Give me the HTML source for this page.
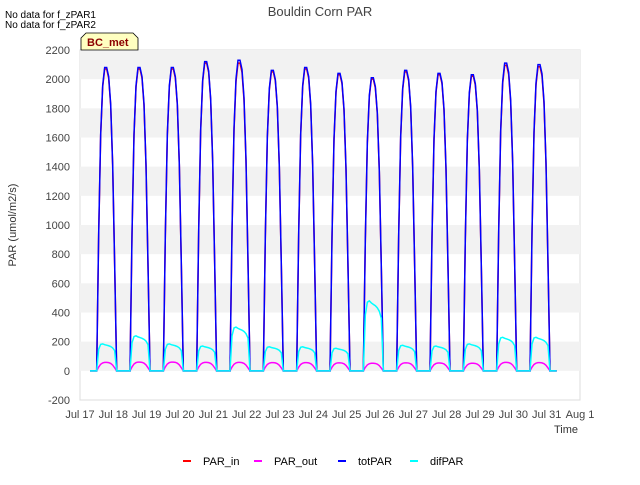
<!DOCTYPE html>
<html><head><meta charset="utf-8"><style>
body{margin:0;background:#fff;font-family:"Liberation Sans",sans-serif}
svg text{font-family:"Liberation Sans",sans-serif}
</style></head><body>
<svg id="c" width="640" height="480" xmlns="http://www.w3.org/2000/svg">
<rect width="640" height="480" fill="#fff"/>
<text x="320" y="16" text-anchor="middle" font-size="13" fill="#444">Bouldin Corn PAR</text>
<text x="5" y="18" font-size="10" fill="#000">No data for f_zPAR1</text>
<text x="5" y="28" font-size="10" fill="#000">No data for f_zPAR2</text>
<g id="plot"></g>
<g>
<path d="M81,50 L81,38 L86,33 L133,33 L138,38 L138,50 Z" fill="#ffffc0" stroke="#000" stroke-width="0.8"/>
<text x="87" y="46" font-size="11" font-weight="bold" fill="#8b0000">BC_met</text>
</g>
<text x="16" y="225" font-size="11" fill="#333" text-anchor="middle" transform="rotate(-90 16 225)">PAR (umol/m2/s)</text>
<text x="578" y="433" font-size="11" fill="#333" text-anchor="end">Time</text>
<g id="legend"></g>
</svg>
<script>
const dayLabels=["Jul 17","Jul 18","Jul 19","Jul 20","Jul 21","Jul 22","Jul 23","Jul 24","Jul 25","Jul 26","Jul 27","Jul 28","Jul 29","Jul 30","Jul 31","Aug 1"];
const yTicks=[-200,0,200,400,600,800,1000,1200,1400,1600,1800,2000,2200];
const totPeak=[2080,2080,2080,2120,2130,2060,2080,2040,2010,2060,2040,2030,2110,2100];
const inPeak=[2070,2070,2070,2110,2110,2050,2070,2030,2000,2050,2030,2020,2095,2085];
const outPeak=[58,60,60,58,58,56,56,55,52,55,54,52,58,56];
const difPeak=[185,240,185,170,300,165,165,155,480,175,170,185,230,230];
const profile=[0,0.45,0.78,0.94,1,1,0.97,0.88,0.68,0.35,0];
const difProfile=[0,0.8,0.98,1,0.97,0.95,0.93,0.9,0.85,0.75,0];
const NS="http://www.w3.org/2000/svg";
const X0=80,X1=580,Y0=50,Y1=400;
const xs=d=>X0+(X1-X0)*d/15;
const ys=v=>Y1-(v+200)/2400*(Y1-Y0);
const plot=document.getElementById('plot');
function mk(t,a,p){const e=document.createElementNS(NS,t);for(const k in a)e.setAttribute(k,a[k]);(p||plot).appendChild(e);return e;}
const bg=mk('rect',{x:X0,y:Y0,width:X1-X0,height:Y1-Y0,fill:'#fff',stroke:'#ddd'});


for(let v=0;v<2200;v+=400){const b=mk('rect',{x:X0,y:ys(v+200),width:X1-X0,height:ys(v)-ys(v+200),fill:'#f2f2f2'});

}
yTicks.forEach(v=>{const t=mk('text',{x:X0-10,y:ys(v)+4,'font-size':11,fill:'#444','text-anchor':'end'});t.textContent=v;

});
dayLabels.forEach((l,i)=>{const t=mk('text',{x:xs(i),y:Y1+18,'font-size':11,fill:'#444','text-anchor':'middle'});t.textContent=l;

});
function series(peaks,prof,color,name,w){
 let pts=[[xs(0.3),ys(0)]];
 peaks.forEach((p,i)=>{const s=i+0.5,e=i+1.1;
  pts.push([xs(s),ys(0)]);
  prof.forEach((f,k)=>pts.push([xs(s+(e-s)*k/(prof.length-1)),ys(p*f)]));
 });
 pts.push([xs(14.3),ys(0)]);
 const pl=mk('polyline',{points:pts.map(p=>p.join(',')).join(' '),fill:'none',stroke:color,'stroke-width':w||1.5});
 
 
}
series(inPeak,profile,'#ff0000','PAR_in-line');
series(outPeak,profile,'#ff00ff','PAR_out-line');
series(totPeak,profile,'#0000ff','totPAR-line');
series(difPeak,difProfile,'#00ffff','difPAR-line');
const lg=document.getElementById('legend');
[["PAR_in","#ff0000",183],["PAR_out","#ff00ff",254],["totPAR","#0000ff",338],["difPAR","#00ffff",410]].forEach(([n,c,x])=>{
 const g=mk('g',{},lg);
 
 
 mk('line',{x1:x,y1:461,x2:x+8,y2:461,stroke:c,'stroke-width':2},g);
 const t=mk('text',{x:x+20,y:465,'font-size':11,fill:'#000'},g);t.textContent=n;
});
</script>
</body></html>
